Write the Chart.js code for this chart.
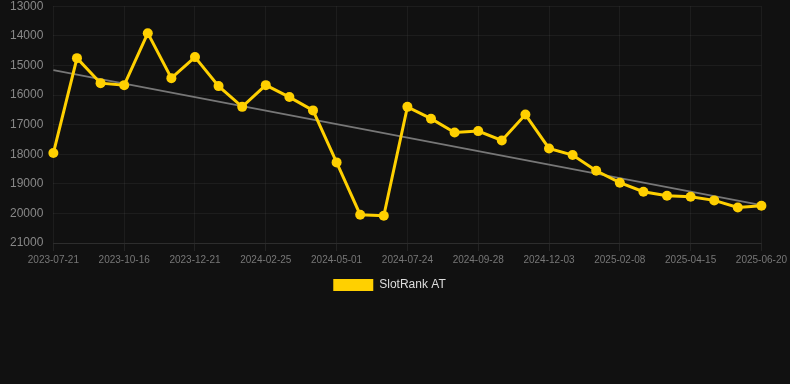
<!DOCTYPE html>
<html>
<head>
<meta charset="utf-8">
<script src="https://cdn.jsdelivr.net/npm/chart.js@4.4.1/dist/chart.umd.min.js"></script>
<style>
    html, body { margin: 0; padding: 0; background: #111111; overflow: hidden; }
    #wrap { width: 790px; height: 312px; position: relative; margin-top: -11px; }
</style>
</head>
<body>
<div id="wrap"><canvas id="rankChart"></canvas></div>
<script>
// dates on the x axis (only every third one is labelled)
const dates = [
    "2023-07-21", "2023-08-20", "2023-09-17", "2023-10-16", "2023-11-07", "2023-11-29",
    "2023-12-21", "2024-01-12", "2024-02-03", "2024-02-25", "2024-03-18", "2024-04-09",
    "2024-05-01", "2024-05-29", "2024-06-26", "2024-07-24", "2024-08-15", "2024-09-06",
    "2024-09-28", "2024-10-20", "2024-11-11", "2024-12-03", "2024-12-25", "2025-01-17",
    "2025-02-08", "2025-03-02", "2025-03-24", "2025-04-15", "2025-05-07", "2025-05-29",
    "2025-06-20"
];

// rank values
const rankValues = [
    17960, 14755, 15600, 15667, 13911, 15430,
    14720, 15700, 16400, 15667, 16070, 16520,
    18277, 20045, 20078, 16400, 16800, 17265,
    17220, 17535, 16660, 17805, 18030, 18558,
    18963, 19267, 19402, 19436, 19560, 19800,
    19740
];

// trend line, only its two end points
const trendStart = 15160;
const trendEnd = 19720;

const seriesName = "SlotRank AT";
const yTicks = [13000, 14000, 15000, 16000, 17000, 18000, 19000, 20000, 21000];

const trendValues = dates.map((d, i) => {
    if (i === 0) return trendStart;
    if (i === dates.length - 1) return trendEnd;
    return null;
});

const fontFamily = "'Liberation Sans', Arial, Helvetica, sans-serif";

const data = {
    labels: dates,
    datasets: [
        {
            label: seriesName,
            data: rankValues,
            borderColor: "#FFD000",
            backgroundColor: "#FFD000",
            borderWidth: 3,
            pointRadius: 5,
            pointHoverRadius: 5,
            pointBackgroundColor: "#FFD000",
            pointBorderWidth: 0,
            tension: 0,
            clip: false,
            order: 1,
        },
        {
            label: "trend",
            data: trendValues,
            borderColor: "#777777",
            borderWidth: 2,
            pointRadius: 0,
            spanGaps: true,
            order: 2,
        },
    ],
};

const config = {
    type: "line",
    data: data,
    options: {
        responsive: true,
        maintainAspectRatio: false,
        animation: false,
        layout: {
            padding: { left: 0, right: 11, top: 0, bottom: 0 }
        },
        plugins: {
            legend: {
                position: "bottom",
                labels: {
                    color: "#dddddd",
                    boxWidth: 40,
                    boxHeight: 12,
                    font: { family: fontFamily, size: 12 },
                    filter: (item) => item.text === seriesName,
                    generateLabels: (chart) => {
                        const items = Chart.defaults.plugins.legend.labels.generateLabels(chart);
                        items.forEach(it => { it.lineWidth = 0; });
                        return items;
                    },
                },
            },
            tooltip: { enabled: false },
        },
        scales: {
            x: {
                grid: {
                    color: "rgba(255,255,255,0.05)",
                    tickColor: "rgba(255,255,255,0.08)",
                },
                border: { color: "rgba(255,255,255,0.08)" },
                ticks: {
                    color: "#777777",
                    autoSkip: false,
                    maxRotation: 0,
                    font: { family: fontFamily, size: 10 },
                    callback: function (val, index) {
                        return index % 3 === 0 ? this.getLabelForValue(val) : null;
                    },
                },
            },
            y: {
                reverse: true,
                min: yTicks[0],
                max: yTicks[yTicks.length - 1],
                afterBuildTicks: (axis) => {
                    axis.ticks = yTicks.map(v => ({ value: v }));
                },
                grid: {
                    color: "rgba(255,255,255,0.05)",
                    drawTicks: false,
                },
                border: { display: false },
                ticks: {
                    color: "#888888",
                    padding: 10,
                    font: { family: fontFamily, size: 12 },
                    callback: (v) => String(v),
                },
            },
        },
    },
};

const rankChart = new Chart(document.getElementById("rankChart"), config);
</script>
</body>
</html>
